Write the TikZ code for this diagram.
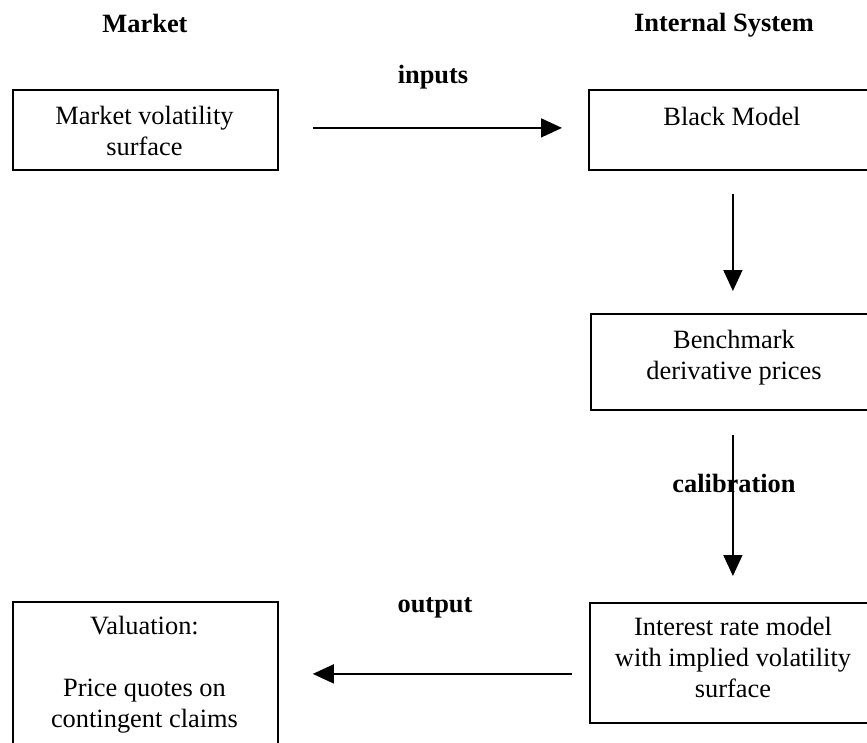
\documentclass[tikz,border=0pt]{standalone}
\usepackage{fontspec}
\setmainfont{Liberation Serif}
\usetikzlibrary{arrows.meta}
\begin{document}
\begin{tikzpicture}[x=1pt,y=-1pt,
  box/.style={draw,line width=1.8pt,inner sep=0pt,anchor=north west},
  txt/.style={font=\fontsize{26.4}{31}\selectfont,align=center,inner sep=0pt,anchor=base},
  hdr/.style={font=\fontsize{26.4}{31}\selectfont\bfseries,inner sep=0pt,anchor=base},
  arr/.style={line width=1.6pt,-{Triangle[length=21pt,width=19pt]}}]
\useasboundingbox (0,0) rectangle (867,742);
\clip (0,0) rectangle (867,742);
% headers
\node[hdr] (hm) at (145,32) {Market};
\node[hdr] (hi) at (724,31) {Internal System};
% boxes
\node[box,minimum width=265pt,minimum height=80pt] (mv) at (12,89) {};
\node[box,minimum width=288pt,minimum height=80pt] (bm) at (588,89) {};
\node[box,minimum width=288pt,minimum height=96pt] (bch) at (590,313) {};
\node[box,minimum width=288pt,minimum height=120pt] (ir) at (589,602) {};
\node[box,minimum width=265pt,minimum height=160pt] (val) at (12,601) {};
% box texts (anchor at baseline of last line)
\node[txt] (mvt) at (144.5,155) {Market volatility\\surface};
\node[txt] (bmt) at (732,125) {Black Model};
\node[txt] (bcht) at (734,379) {Benchmark\\derivative prices};
\node[txt] (irt) at (733,697) {Interest rate model\\with implied volatility\\surface};
\node[txt] (valt) at (144.5,727) {Valuation:\\[31pt]Price quotes on\\contingent claims};
% connectors
\draw[arr,shorten <=34pt,shorten >=26pt] ([yshift=2pt]mv.east) -- ([yshift=2pt]bm.west);
\draw[arr,shorten <=23pt,shorten >=22pt] (bm.south) -- (bm.south |- bch.north);
\draw[arr,shorten <=24pt,shorten >=26pt] (bm.south |- bch.south) -- (bm.south |- ir.north);
\draw[arr,shorten <=17pt,shorten >=34pt] ([yshift=-11pt]ir.west) -- ([yshift=-11pt]ir.west -| val.east);
% labels
\node[hdr] (lin) at (433,83) {inputs};
\node[hdr] (lcal) at (734,492) {calibration};
\node[hdr] (lout) at (435,612) {output};
\end{tikzpicture}
\end{document}
